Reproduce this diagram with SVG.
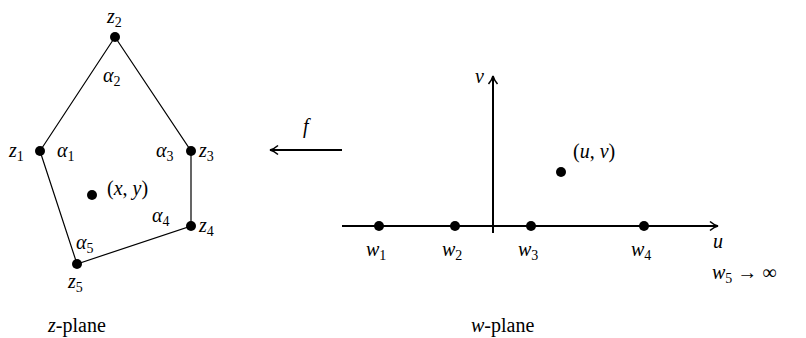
<svg xmlns="http://www.w3.org/2000/svg" width="806" height="338" viewBox="0 0 806 338" font-family="Liberation Serif">
<style>
svg text, svg tspan, text{font-family:"Liberation Serif",serif !important}
text{font-size:20px}
.i{font-style:italic}
.s{font-size:14px;font-style:normal}
.dot{fill:#000}
.edge{stroke:#000;stroke-width:1.2;fill:none}
.axis{stroke:#000;stroke-width:2;fill:none}
</style>
<defs>
<marker id="ah" markerWidth="12" markerHeight="12" refX="9" refY="6" orient="auto" markerUnits="userSpaceOnUse">
<path d="M1,1.5 Q5,5 9,6 Q5,7 1,10.5" fill="none" stroke="#000" stroke-width="1.6"/>
</marker>
</defs>
<g id="connectors">
<polyline class="edge" points="40,151 115,37 191,151 191,226 77,264 40,151"/>
<line class="axis" x1="342" y1="226" x2="718" y2="226" marker-end="url(#ah)"/>
<line class="axis" x1="493" y1="233" x2="493" y2="76" marker-end="url(#ah)"/>
<line class="axis" x1="342" y1="150" x2="270" y2="150" marker-end="url(#ah)"/>
</g>
<g id="z2"><circle class="dot" cx="115" cy="37" r="5"/><text style="font-family:'Liberation Serif',serif" x="107" y="23" class="i">z<tspan class="s" dy="4">2</tspan></text><text style="font-family:'Liberation Serif',serif" x="103" y="82" class="i">α<tspan class="s" dy="4">2</tspan></text></g>
<g id="z1"><circle class="dot" cx="40" cy="151" r="5"/><text style="font-family:'Liberation Serif',serif" x="9" y="157" class="i">z<tspan class="s" dy="4">1</tspan></text><text style="font-family:'Liberation Serif',serif" x="57" y="157" class="i">α<tspan class="s" dy="4">1</tspan></text></g>
<g id="z3"><circle class="dot" cx="191" cy="151" r="5"/><text style="font-family:'Liberation Serif',serif" x="199" y="157" class="i">z<tspan class="s" dy="4">3</tspan></text><text style="font-family:'Liberation Serif',serif" x="156" y="157" class="i">α<tspan class="s" dy="4">3</tspan></text></g>
<g id="z4"><circle class="dot" cx="191" cy="226" r="5"/><text style="font-family:'Liberation Serif',serif" x="199" y="232" class="i">z<tspan class="s" dy="4">4</tspan></text><text style="font-family:'Liberation Serif',serif" x="152" y="222" class="i">α<tspan class="s" dy="4">4</tspan></text></g>
<g id="z5"><circle class="dot" cx="77" cy="264" r="5"/><text style="font-family:'Liberation Serif',serif" x="68" y="288" class="i">z<tspan class="s" dy="4">5</tspan></text><text style="font-family:'Liberation Serif',serif" x="76" y="249" class="i">α<tspan class="s" dy="4">5</tspan></text></g>
<g id="xy"><circle class="dot" cx="92" cy="195" r="5"/><text style="font-family:'Liberation Serif',serif" x="107" y="195">(<tspan class="i">x</tspan>, <tspan class="i">y</tspan>)</text></g>
<g id="f"><text style="font-family:'Liberation Serif',serif" x="303" y="133" class="i">f</text></g>
<g id="v"><text style="font-family:'Liberation Serif',serif" x="475" y="83" class="i">v</text></g>
<g id="u"><text style="font-family:'Liberation Serif',serif" x="713" y="248" class="i">u</text></g>
<g id="w1"><circle class="dot" cx="379" cy="226" r="5"/><text style="font-family:'Liberation Serif',serif" x="366" y="256" class="i">w<tspan class="s" dy="4">1</tspan></text></g>
<g id="w2"><circle class="dot" cx="455" cy="226" r="5"/><text style="font-family:'Liberation Serif',serif" x="442" y="256" class="i">w<tspan class="s" dy="4">2</tspan></text></g>
<g id="w3"><circle class="dot" cx="531" cy="226" r="5"/><text style="font-family:'Liberation Serif',serif" x="518" y="256" class="i">w<tspan class="s" dy="4">3</tspan></text></g>
<g id="w4"><circle class="dot" cx="644" cy="226" r="5"/><text style="font-family:'Liberation Serif',serif" x="631" y="256" class="i">w<tspan class="s" dy="4">4</tspan></text></g>
<g id="w5"><text style="font-family:'Liberation Serif',serif" x="712" y="279" class="i">w<tspan class="s" dy="4">5</tspan><tspan dy="-4" font-style="normal"> → ∞</tspan></text></g>
<g id="uv"><circle class="dot" cx="561" cy="172" r="5"/><text style="font-family:'Liberation Serif',serif" x="573" y="158">(<tspan class="i">u</tspan>, <tspan class="i">v</tspan>)</text></g>
<g id="zplane"><text style="font-family:'Liberation Serif',serif" x="48" y="332"><tspan class="i">z</tspan>-plane</text></g>
<g id="wplane"><text style="font-family:'Liberation Serif',serif" x="471" y="332"><tspan class="i">w</tspan>-plane</text></g>
</svg>
